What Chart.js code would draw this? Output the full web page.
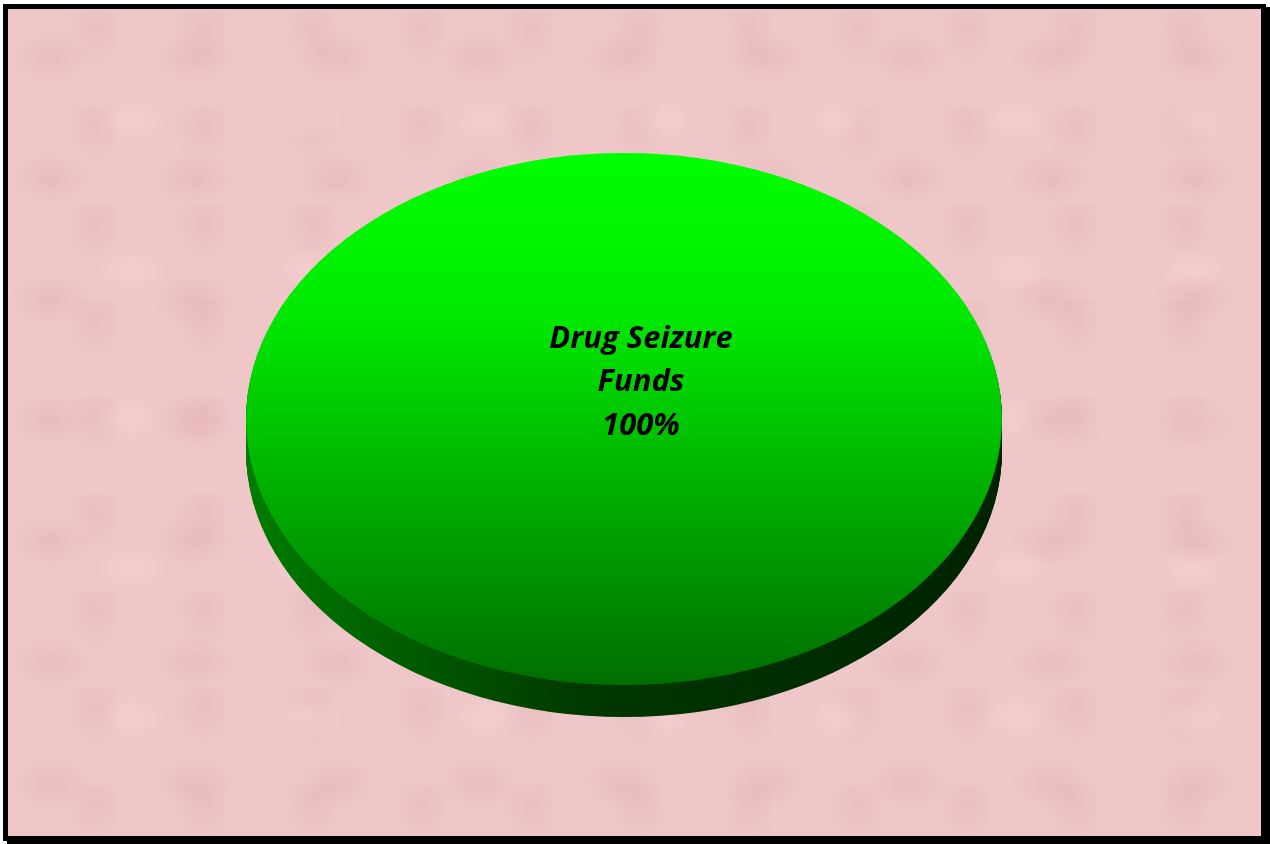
<!DOCTYPE html>
<html>
<head>
<meta charset="utf-8">
<script src="https://cdn.jsdelivr.net/npm/chart.js@4.4.0/dist/chart.umd.min.js"></script>
<style>
  html, body { margin: 0; padding: 0; background: #fff; }
  #frame {
    position: absolute; left: 3px; top: 4px;
    width: 1263px; height: 837px; box-sizing: border-box;
    border: 5px solid #000;
    box-shadow: 4px 3px 0 #000;
    background-color: #efc7c8;
    background-image:
      radial-gradient(ellipse 40px 26px at 30% 40%, rgba(222,168,172,0.35), transparent),
      radial-gradient(ellipse 34px 22px at 70% 75%, rgba(250,220,220,0.35), transparent),
      radial-gradient(ellipse 30px 40px at 80% 20%, rgba(220,166,170,0.25), transparent);
    background-size: 143px 121px, 177px 149px, 109px 97px;
  }
  #pieChart { position: absolute; left: 0; top: 0; }
</style>
</head>
<body>
<div id="frame"></div>
<canvas id="pieChart" width="1270" height="844"></canvas>
<script>
const categories = ['Drug Seizure Funds'];
const labelLines = [['Drug Seizure', 'Funds']];
const values = [100];

// 3D look: vertical squash of the pie and thickness of its side
const tilt = 266 / 378;
const depth = 32;

const total = values.reduce((a, b) => a + b, 0);

function faceColor(c) {
  const area = c.chart.chartArea;
  if (!area) return '#00c000';
  const g = c.chart.ctx.createLinearGradient(0, area.top, 0, area.bottom);
  g.addColorStop(0, '#00ff00');
  g.addColorStop(0.3, '#00ea00');
  g.addColorStop(1, '#006e00');
  return g;
}

const pie3d = {
  id: 'pie3d',
  beforeDatasetsDraw(chart) {
    const ctx = chart.ctx;
    const arcs = chart.getDatasetMeta(0).data;
    const { x, y, outerRadius } = arcs[0];
    ctx.save();
    ctx.translate(0, y);
    ctx.scale(1, tilt);
    ctx.translate(0, -y);

    // side wall, drawn from the bottom up
    const side = ctx.createLinearGradient(x - outerRadius, 0, x + outerRadius, 0);
    side.addColorStop(0, '#007c00');
    side.addColorStop(0.45, '#003800');
    side.addColorStop(1, '#002200');
    for (let d = depth; d > 0; d--) {
      ctx.save();
      ctx.translate(0, d / tilt);
      arcs.forEach(arc => {
        const opts = arc.options;
        arc.options = Object.assign({}, opts, { backgroundColor: side });
        arc.draw(ctx);
        arc.options = opts;
      });
      ctx.restore();
    }
  },
  afterDatasetsDraw(chart) {
    const ctx = chart.ctx;
    ctx.restore();

    // data labels
    const arcs = chart.getDatasetMeta(0).data;
    arcs.forEach((arc, i) => {
      const pct = Math.round(values[i] / total * 100) + '%';
      const lines = [...labelLines[i], pct];
      ctx.save();
      ctx.font = 'italic bold 31px "Open Sans"';
      ctx.fillStyle = '#000';
      ctx.textAlign = 'center';
      ctx.textBaseline = 'middle';
      lines.forEach((t, k) => {
        ctx.fillText(t, arc.x + 17, arc.y - 80 + k * 43.5);
      });
      ctx.restore();
    });
  }
};

const ctx = document.getElementById('pieChart').getContext('2d');
new Chart(ctx, {
  type: 'pie',
  data: {
    labels: categories,
    datasets: [{
      data: values,
      backgroundColor: faceColor,
      borderWidth: 0,
      clip: false
    }]
  },
  options: {
    responsive: false,
    animation: false,
    events: [],
    layout: { padding: { left: 246, right: 268, top: 41, bottom: 47 } },
    plugins: {
      legend: { display: false },
      tooltip: { enabled: false }
    }
  },
  plugins: [pie3d]
});
</script>
</body>
</html>
